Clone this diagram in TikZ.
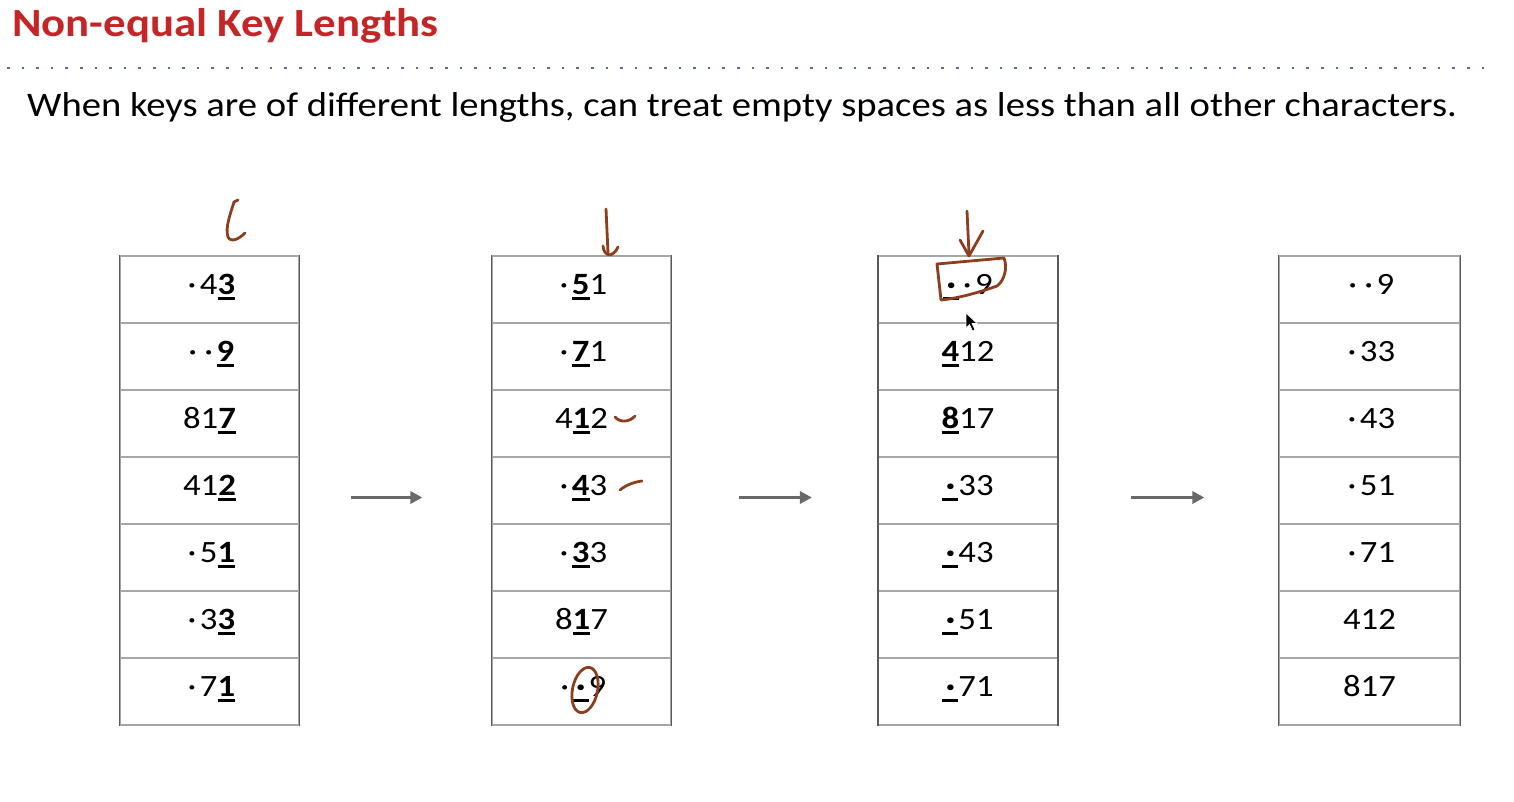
\documentclass[tikz,border=0pt]{standalone}
\usepackage{fontspec}
\setmainfont{Carlito}[FakeStretch=1.12]
\usetikzlibrary{arrows.meta}
\definecolor{titlered}{RGB}{196,38,40}
\definecolor{dotblue}{RGB}{80,110,160}
\definecolor{ink}{RGB}{140,62,30}
\definecolor{arrgray}{RGB}{105,105,105}
\newsavebox\ukbox
\newcommand\uk[1]{\sbox\ukbox{\bfseries #1}\rlap{\rule[-5.5pt]{\wd\ukbox}{2.6pt}}\usebox\ukbox}
\newcommand\pd{\makebox[16pt]{·}}
\tikzset{
  cellbox/.style={minimum width=179pt, minimum height=67pt, inner sep=0pt,
    draw=gray!70, line width=1.2pt, font=\fontsize{31}{34}\selectfont,
    text height=20pt, text depth=10pt},
  side/.style={draw=black!65, line width=1.3pt},
  flow/.style={arrgray, line width=3pt, -{Triangle[length=12pt,width=12pt]}},
  handink/.style={draw=ink, line width=2.8pt, line cap=round, line join=round},
}
\begin{document}
\begin{tikzpicture}[x=1pt,y=-1pt]
\useasboundingbox (0,0) rectangle (1514,802);
% title
\node[anchor=base west, inner sep=0pt, text=titlered, font=\bfseries\fontsize{40}{44}\selectfont] (title) at (12,37) {Non-equal Key Lengths};
\draw[dotblue, line width=2.6pt, dash pattern=on 2.6pt off 12pt] (7,68) -- (1487,68);
\node[anchor=base west, inner sep=0pt, font=\fontsize{34.5}{40}\selectfont] (sub) at (27,117) {When keys are of different lengths, can treat empty spaces as less than all other characters.};
% columns
\foreach \t [count=\i] in {{\pd4\uk{3}},{\pd\pd\uk{9}},{81\uk{7}},{41\uk{2}},{\pd5\uk{1}},{\pd3\uk{3}},{\pd7\uk{1}}}
  \node[cellbox] (a\i) at (209.5,{289.5+67*(\i-1)}) {\t};
\foreach \t [count=\i] in {{\pd\uk{5}1},{\pd\uk{7}1},{4\uk{1}2},{\pd\uk{4}3},{\pd\uk{3}3},{8\uk{1}7},{\pd\uk{\pd}9}}
  \node[cellbox] (b\i) at (581.5,{289.5+67*(\i-1)}) {\t};
\foreach \t [count=\i] in {{\uk{\pd}\pd9},{\uk{4}12},{\uk{8}17},{\uk{\pd}33},{\uk{\pd}43},{\uk{\pd}51},{\uk{\pd}71}}
  \node[cellbox] (c\i) at (968,{289.5+67*(\i-1)}) {\t};
\foreach \t [count=\i] in {{\pd\pd9},{\pd33},{\pd43},{\pd51},{\pd71},{412},{817}}
  \node[cellbox, minimum width=181pt] (d\i) at (1369.5,{289.5+67*(\i-1)}) {\t};
\foreach \c in {a,b,c,d}{
  \draw[side] (\c1.north west) -- (\c7.south west);
  \draw[side] (\c1.north east) -- (\c7.south east);
}
% flow arrows
\coordinate (s1) at ([xshift=51pt,yshift=-7pt]a4.east);
\coordinate (e1) at ([xshift=-69pt,yshift=-7pt]b4.west);
\coordinate (s2) at ([xshift=67pt,yshift=-7pt]b4.east);
\coordinate (e2) at ([xshift=-66pt,yshift=-7pt]c4.west);
\coordinate (s3) at ([xshift=73pt,yshift=-7pt]c4.east);
\coordinate (e3) at ([xshift=-74pt,yshift=-7pt]d4.west);
\draw[flow] (s1) -- (e1);
\draw[flow] (s2) -- (e2);
\draw[flow] (s3) -- (e3);
% handwritten marks
\draw[handink] (238,200) -- (234,202) .. controls (230,215) and (225,228) .. (228,237) .. controls (231,243) and (239,239) .. (245,233);
\draw[handink] (606,209) -- (608,253);
\draw[handink] (603,246) .. controls (604,257) and (613,258) .. (618,247);
\draw[handink] (615,417) .. controls (620,423) and (630,422) .. (635,416);
\draw[handink] (620,490) .. controls (626,485) and (634,482) .. (642,481);
\draw[handink] (585,690) ellipse [x radius=12.5pt, y radius=23pt, rotate=-12];
\draw[handink] (967,211) -- (969,254);
\draw[handink] (960,240) -- (969,256) -- (983,231);
\draw[handink] (941,300) -- (937,264) -- (1004,258) .. controls (1008,268) and (1004,281) .. (997,286) .. controls (980,292) and (960,298) .. (941,300);
% mouse pointer
\fill[black, draw=white, line width=0.6pt] (966,313) -- (966,328) -- (969.5,324.5) -- (972.5,331) -- (975,330) -- (972,323.5) -- (977,323.5) -- cycle;
\end{tikzpicture}
\end{document}
